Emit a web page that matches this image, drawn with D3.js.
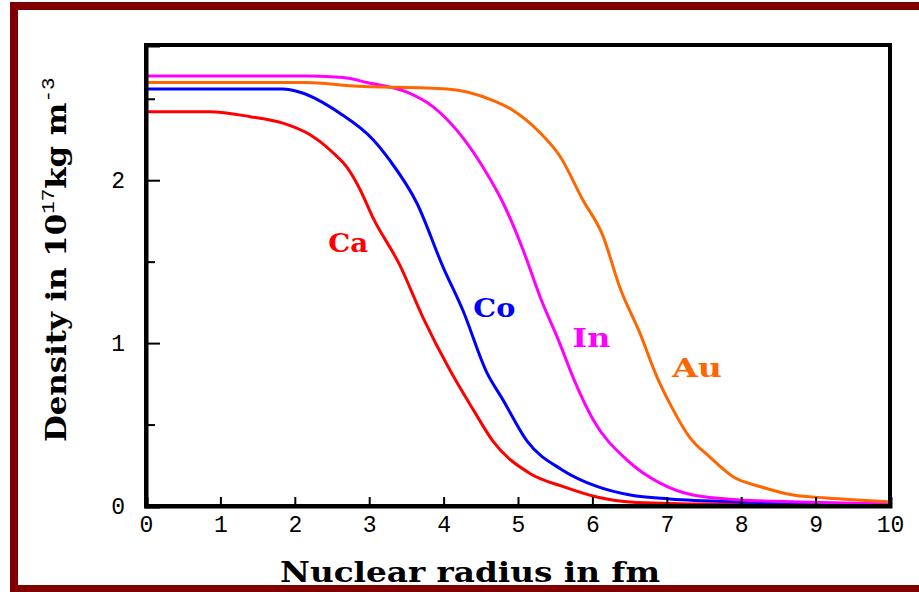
<!DOCTYPE html>
<html>
<head>
<meta charset="utf-8">
<script src="https://cdn.jsdelivr.net/npm/d3@7"></script>
<style>
  body { margin: 0; background: #fff; }
  svg { display: block; }
  .tick text { font-family: "Liberation Mono", monospace; font-size: 23px; fill: #000; }
  .lbl { font-family: "DejaVu Serif", serif; font-weight: bold; }
</style>
</head>
<body>
<div id="chart"></div>
<script>
// radius in fm, density in 10^17 kg m^-3
var caR   = [0, 0.86, 1.4, 1.84, 2.2, 2.51, 2.7, 2.88, 3.05, 3.41, 3.72, 4.09, 4.4, 4.66, 5.16, 5.6, 6.06, 6.5, 7.45, 10];
var caRho = [2.42, 2.42, 2.39, 2.35, 2.28, 2.17, 2.08, 1.94, 1.77, 1.48, 1.16, 0.83, 0.59, 0.4, 0.2, 0.12, 0.055, 0.025, 0.012, 0.005];

var coR   = [0, 1.84, 2.07, 2.61, 3.05, 3.28, 3.64, 3.99, 4.26, 4.58, 4.8, 5.12, 5.6, 6.06, 6.51, 7.04, 8, 10];
var coRho = [2.56, 2.56, 2.54, 2.41, 2.25, 2.12, 1.86, 1.47, 1.2, 0.82, 0.65, 0.4, 0.22, 0.12, 0.067, 0.043, 0.025, 0.012];

var inR   = [0, 2.2, 2.65, 2.97, 3.51, 3.86, 4.26, 4.53, 4.8, 5.07, 5.3, 5.56, 5.74, 6.01, 6.47, 6.91, 7.35, 7.98, 8.79, 10];
var inRho = [2.64, 2.64, 2.63, 2.6, 2.54, 2.45, 2.26, 2.08, 1.86, 1.57, 1.28, 1.0, 0.79, 0.53, 0.28, 0.14, 0.067, 0.037, 0.025, 0.012];

var auR   = [0, 2.16, 2.74, 4.05, 4.66, 4.93, 5.3, 5.56, 5.87, 6.14, 6.37, 6.64, 6.87, 7.04, 7.31, 7.58, 7.89, 8.25, 8.7, 9.15, 10];
var auRho = [2.6, 2.6, 2.58, 2.56, 2.49, 2.43, 2.29, 2.15, 1.88, 1.66, 1.34, 1.06, 0.79, 0.63, 0.42, 0.3, 0.18, 0.12, 0.067, 0.049, 0.025];

var elements = ["Ca", "Co", "In", "Au"];
var colors   = ["#ff0000", "#0000ff", "#ff00ff", "#ff6600"];
// where each element's name sits (r, density)
var labelR   = [2.45, 4.4, 5.73, 7.07];
var labelRho = [1.56, 1.16, 0.975, 0.79];

var xTicks = [0, 1, 2, 3, 4, 5, 6, 7, 8, 9, 10];
var yTicks = [0, 1, 2];
var yMinor = [0.5, 1.5, 2.5];

var W = 919, H = 592,
    margin = {top: 45, right: 29, bottom: 86, left: 146},
    width = W - margin.left - margin.right,
    height = H - margin.top - margin.bottom;

var series = [[caR, caRho], [coR, coRho], [inR, inRho], [auR, auRho]].map(function (s, i) {
  return {
    name: elements[i],
    color: colors[i],
    values: s[0].map(function (r, j) { return {r: r, rho: s[1][j]}; })
  };
});

var svg = d3.select("#chart").append("svg")
    .attr("width", W)
    .attr("height", H);

svg.append("rect").attr("width", W).attr("height", H).attr("fill", "#fff");

// dark red frame round the picture
svg.append("rect")
    .attr("x", 14).attr("y", 6)
    .attr("width", W + 20).attr("height", 583)
    .attr("fill", "none")
    .attr("stroke", "#800000")
    .attr("stroke-width", 8);

var g = svg.append("g")
    .attr("transform", "translate(" + margin.left + "," + margin.top + ")");

var x = d3.scaleLinear().domain([0, 10]).range([0, width]);
var y = d3.scaleLinear().domain([0, 2.83]).range([height, 0]);

var line = d3.line()
    .x(function (d) { return x(d.r); })
    .y(function (d) { return y(d.rho); })
    .curve(d3.curveMonotoneX);

g.selectAll("path.curve")
    .data(series)
  .enter().append("path")
    .attr("class", "curve")
    .attr("d", function (d) { return line(d.values); })
    .attr("fill", "none")
    .attr("stroke", function (d) { return d.color; })
    .attr("stroke-width", 3);

// plot box
g.append("rect")
    .attr("width", width).attr("height", height)
    .attr("fill", "none")
    .attr("stroke", "#000")
    .attr("stroke-width", 4);

g.append("g")
    .attr("transform", "translate(0," + height + ")")
    .call(d3.axisBottom(x).tickValues(xTicks).tickSize(-9).tickPadding(10).tickFormat(d3.format("d")));

g.append("g")
    .call(d3.axisLeft(y).tickValues(yTicks).tickSize(-14).tickPadding(21).tickFormat(d3.format("d")));

g.append("g")
    .call(d3.axisLeft(y).tickValues(yMinor).tickSize(-9).tickFormat(""))
    .select(".domain").remove();

g.selectAll(".domain").attr("stroke-width", 4);
g.selectAll(".tick line").attr("stroke-width", 2);

// element names next to their curves
var labelLen = [40, 42, 38, 50];
g.selectAll("text.el")
    .data(series)
  .enter().append("text")
    .attr("class", "el lbl")
    .attr("x", function (d, i) { return x(labelR[i]); })
    .attr("y", function (d, i) { return y(labelRho[i]); })
    .attr("fill", function (d) { return d.color; })
    .attr("font-size", 26)
    .attr("textLength", function (d, i) { return labelLen[i]; })
    .attr("lengthAdjust", "spacingAndGlyphs")
    .text(function (d) { return d.name; });

// axis titles
svg.append("text")
    .attr("class", "lbl")
    .attr("x", 280).attr("y", 582)
    .attr("font-size", 27)
    .attr("textLength", 380)
    .attr("lengthAdjust", "spacingAndGlyphs")
    .text("Nuclear radius in fm");

var yt = svg.append("text")
    .attr("class", "lbl")
    .attr("transform", "translate(66,442) rotate(-90) scale(1.1,1)")
    .attr("font-size", 28);
yt.append("tspan").text("Density in 10");
yt.append("tspan").attr("dy", -12).attr("font-size", 19).attr("font-weight", "normal")
    .attr("font-family", "Liberation Mono, monospace").text("17");
yt.append("tspan").attr("dy", 12).text("kg m");
yt.append("tspan").attr("dy", -12).attr("font-size", 19).attr("font-weight", "normal")
    .attr("font-family", "Liberation Mono, monospace").text("-3");
</script>
</body>
</html>
